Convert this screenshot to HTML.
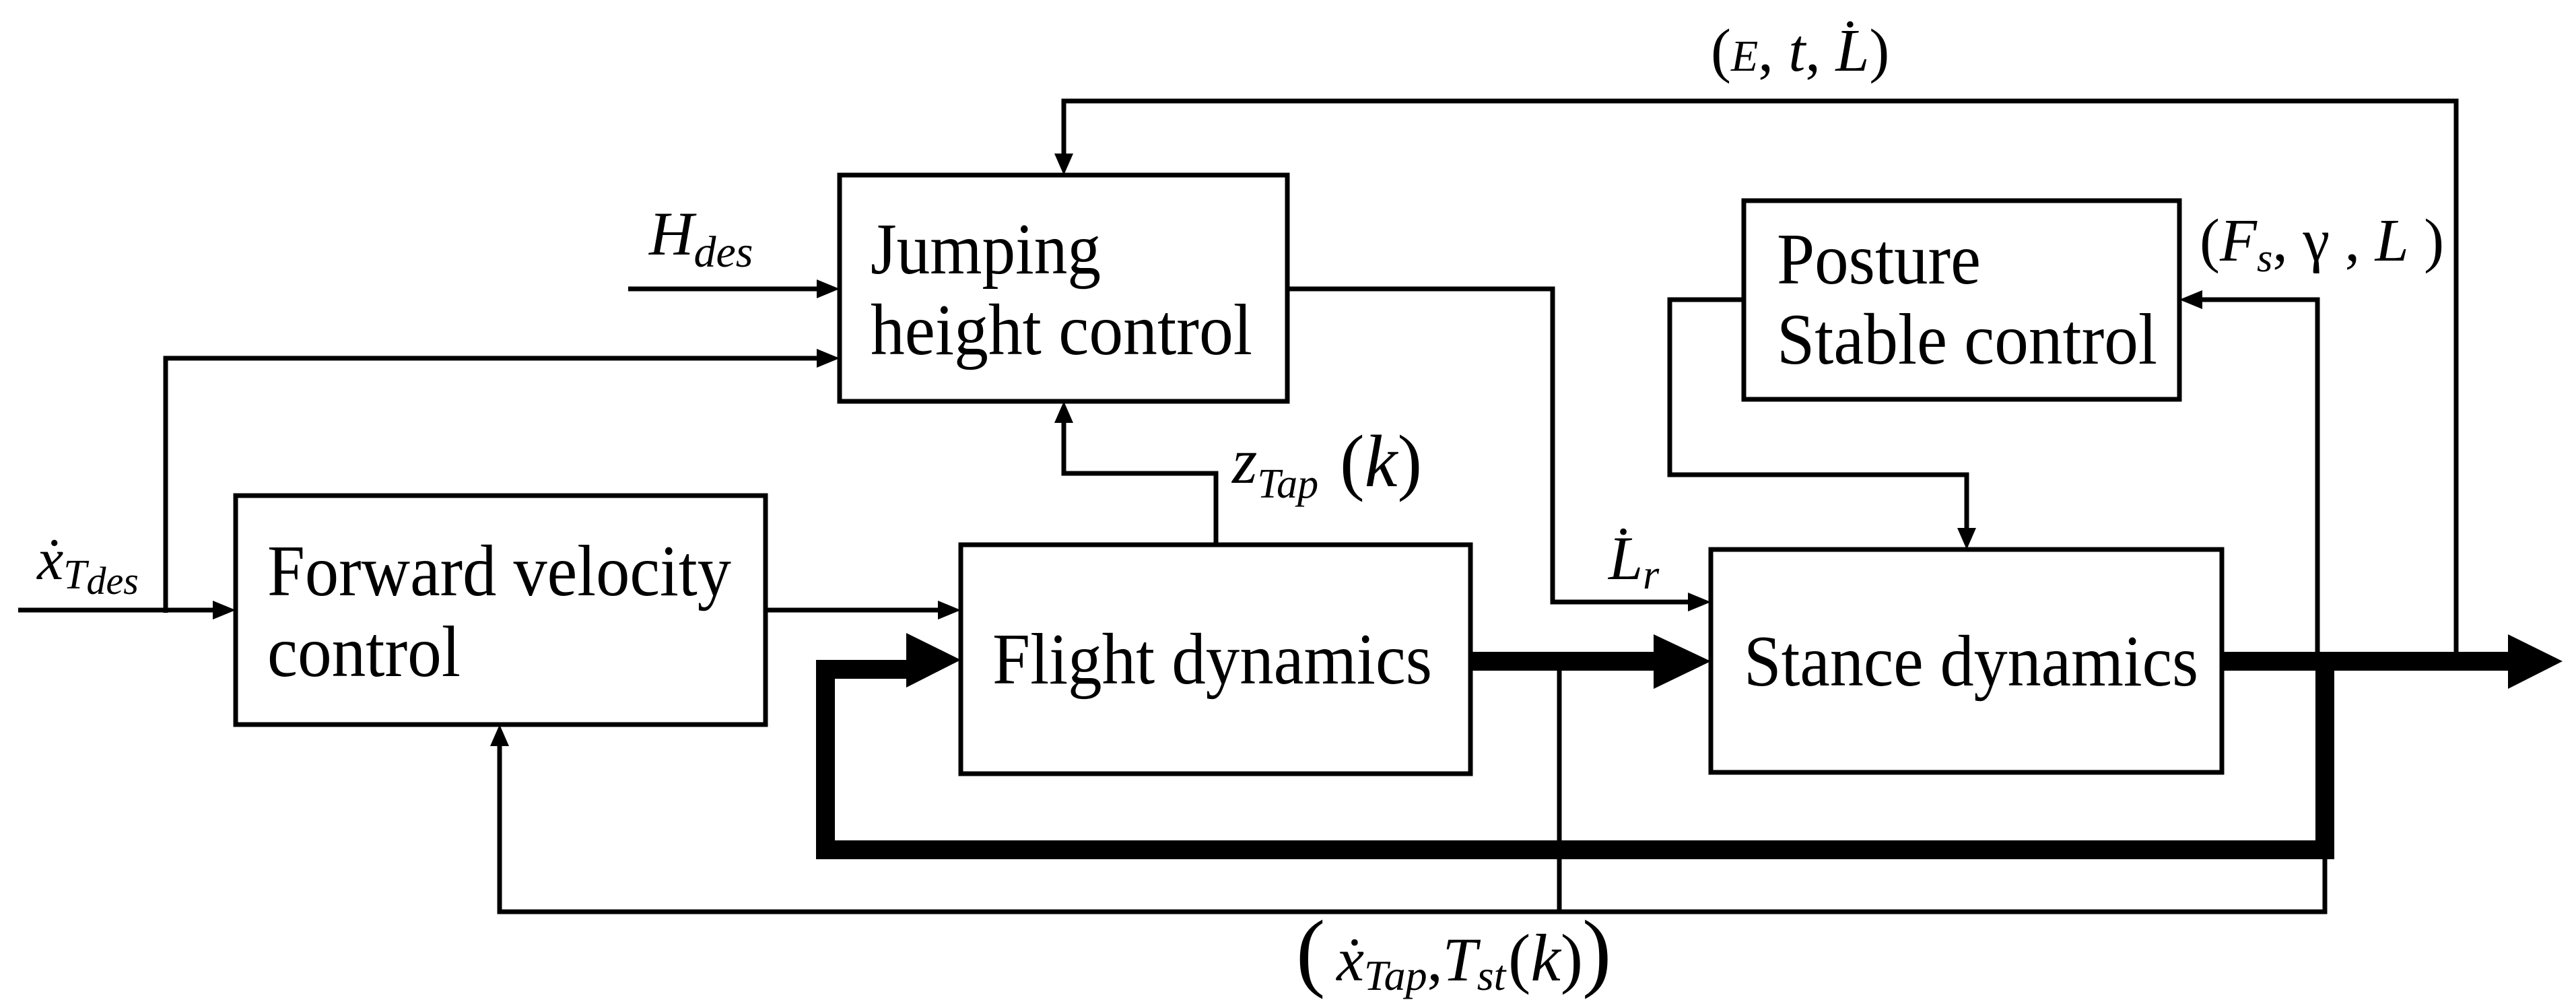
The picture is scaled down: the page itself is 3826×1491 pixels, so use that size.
<!DOCTYPE html>
<html><head><meta charset="utf-8"><style>
html,body{margin:0;padding:0;background:#fff;}
svg{display:block;}
text{font-family:"Liberation Serif","Times New Roman","DejaVu Serif",serif;fill:#000;}
.b{font-size:108px;}
.i{font-style:italic;}
</style></head><body>
<svg width="3826" height="1491" viewBox="0 0 3826 1491" xmlns="http://www.w3.org/2000/svg" font-family="Liberation Serif, Times New Roman, DejaVu Serif, serif">
<g fill="none" stroke="#000" stroke-width="7">
<rect x="1247" y="260" width="665" height="336"/>
<rect x="350" y="736" width="787" height="340"/>
<rect x="1427" y="809" width="757" height="340"/>
<rect x="2541" y="816" width="759" height="331"/>
<rect x="2590" y="298" width="647" height="295"/>
<polyline points="3648,982 3648,150 1580,150 1580,235"/>
<polyline points="933,429 1220,429"/>
<polyline points="246,910 246,532 1220,532"/>
<polyline points="27,906 325,906"/>
<polyline points="1137,906 1400,906"/>
<polyline points="1806,809 1806,703 1580,703 1580,622"/>
<polyline points="742,1102 742,1354 3453,1354 3453,990"/>
<polyline points="2316,982 2316,1354"/>
<polyline points="1912,429 2306,429 2306,894 2515,894"/>
<polyline points="2590,445 2480,445 2480,705 2921,705 2921,790"/>
<polyline points="3442,982 3442,445 3265,445"/>
</g>
<g fill="none" stroke="#000" stroke-width="28" stroke-linejoin="miter">
<polyline points="3453,970 3453,1262 1226,1262 1226,994 1360,994"/>
<polyline points="2184,982 2470,982"/>
<polyline points="3300,982 3740,982"/>
</g>
<g fill="#000">
<polygon points="1580,260 1566,228 1594,228"/>
<polygon points="1247,429 1213,415 1213,443"/>
<polygon points="1247,532 1213,518 1213,546"/>
<polygon points="350,906 316,892 316,920"/>
<polygon points="1427,906 1393,892 1393,920"/>
<polygon points="1580,596 1566,628 1594,628"/>
<polygon points="742,1076 728,1108 756,1108"/>
<polygon points="2541,894 2507,880 2507,908"/>
<polygon points="2921,816 2907,784 2935,784"/>
<polygon points="3237,445 3271,431 3271,459"/>
<polygon points="1427,980 1346,940 1346,1021"/>
<polygon points="2541,982 2456,942 2456,1023"/>
<polygon points="3806,982 3725,942 3725,1023"/>
</g>
<text class="b" x="1293" y="406" textLength="342" lengthAdjust="spacingAndGlyphs">Jumping</text>
<text class="b" x="1293" y="526" textLength="567" lengthAdjust="spacingAndGlyphs">height control</text>
<text class="b" x="397" y="884" textLength="689" lengthAdjust="spacingAndGlyphs">Forward velocity</text>
<text class="b" x="397" y="1004" textLength="287" lengthAdjust="spacingAndGlyphs">control</text>
<text class="b" x="1474" y="1015" textLength="653" lengthAdjust="spacingAndGlyphs">Flight dynamics</text>
<text class="b" x="2590" y="1018" textLength="675" lengthAdjust="spacingAndGlyphs">Stance dynamics</text>
<text class="b" x="2639" y="421" textLength="303" lengthAdjust="spacingAndGlyphs">Posture</text>
<text class="b" x="2639" y="540" textLength="565" lengthAdjust="spacingAndGlyphs">Stable control</text>
<text class="i" x="964" y="378" font-size="92">H<tspan font-size="66" dy="18">des</tspan></text>
<text class="i" x="55" y="860" font-size="88">ẋ<tspan font-size="62" dy="14">T</tspan><tspan font-size="58" dy="8">des</tspan></text>
<text class="i" x="1830" y="717" font-size="96">z<tspan font-size="62" dy="22">Tap</tspan></text>
<text x="1990" y="722" font-size="110">(<tspan class="i">k</tspan>)</text>
<text class="i" x="2389" y="860" font-size="92">L̇<tspan font-size="62" dy="14">r</tspan></text>
<text x="2541" y="105" font-size="90">(<tspan class="i" font-size="66">E</tspan>,  <tspan class="i">t</tspan>,  <tspan class="i">L̇</tspan>)</text>
<text x="3267" y="387" font-size="90">(<tspan class="i">F</tspan><tspan class="i" font-size="60" dy="16">s</tspan><tspan dy="-16">, γ , </tspan><tspan class="i">L</tspan> )</text>
<text x="1925" y="1456" font-size="130">(</text>
<text class="i" x="1985" y="1456" font-size="92">ẋ<tspan font-size="64" dy="14">Tap</tspan><tspan dy="-14" font-style="normal">,</tspan>T<tspan font-size="64" dy="14">st</tspan></text>
<text x="2240" y="1456" font-size="100">(<tspan class="i">k</tspan>)</text>
<text x="2350" y="1456" font-size="130">)</text>
</svg>
</body></html>
